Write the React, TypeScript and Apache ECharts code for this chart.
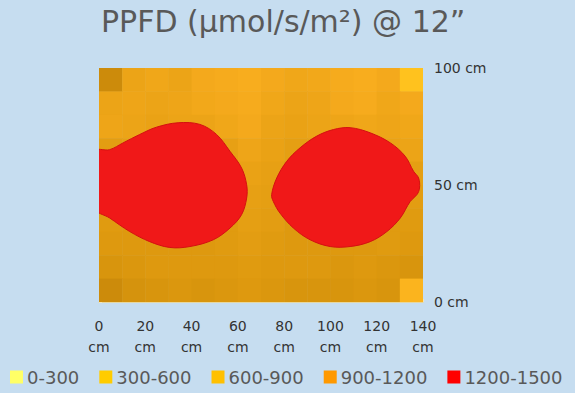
import React, { useEffect, useRef } from "react";
import * as echarts from "echarts";

const xTicks = [0, 20, 40, 60, 80, 100, 120, 140];
const yTicks = [0, 50, 100];
const legendNames = ["0-300", "300-600", "600-900", "900-1200", "1200-1500"];
const legendColors = ["#ffff66", "#ffcc00", "#ffc000", "#ff9900", "#ff0000"];

// cell centres (cm) of the measured grid, 10 cm cells
const cellX = [5, 15, 25, 35, 45, 55, 65, 75, 85, 95, 105, 115, 125, 135];
const cellY = [95, 85, 75, 65, 55, 45, 35, 25, 15, 5];
// PPFD (µmol/s/m²) per row, top row first
const row95 = [1120, 1000, 980, 1000, 960, 950, 940, 960, 980, 970, 950, 940, 960, 880];
const row85 = [1000, 990, 1000, 990, 970, 960, 950, 980, 1000, 990, 960, 950, 980, 960];
const row75 = [990, 1000, 1010, 1000, 1000, 980, 960, 1000, 1010, 1000, 990, 980, 990, 980];
const row65 = [1040, 1030, 1030, 1030, 1030, 1020, 990, 1010, 1030, 1030, 1030, 1020, 1010, 1000];
const row55 = [1060, 1060, 1060, 1060, 1060, 1050, 1010, 1020, 1060, 1060, 1060, 1050, 1040, 1030];
const row45 = [1060, 1060, 1060, 1060, 1060, 1050, 1020, 1030, 1060, 1060, 1060, 1050, 1040, 1040];
const row35 = [1050, 1060, 1060, 1060, 1060, 1050, 1030, 1040, 1060, 1060, 1060, 1050, 1050, 1050];
const row25 = [1060, 1060, 1060, 1060, 1060, 1050, 1040, 1050, 1060, 1060, 1060, 1060, 1050, 1060];
const row15 = [1080, 1070, 1060, 1060, 1060, 1060, 1050, 1060, 1060, 1060, 1070, 1060, 1070, 1080];
const row5 = [1120, 1090, 1080, 1070, 1080, 1070, 1060, 1070, 1080, 1080, 1080, 1070, 1080, 920];
const rows = [row95, row85, row75, row65, row55, row45, row35, row25, row15, row5];

// 1200-1500 contour outlines, [x cm, y cm]
const leftBlob = [
  [-2, 64.4], [4.6, 65.1], [10.4, 68.0], [17.6, 71.6], [24.8, 74.7], [34.2, 76.6],
  [43.6, 75.9], [50.8, 71.6], [56.6, 64.4], [61.6, 57.3], [63.8, 50.1], [63.8, 44.4],
  [61.6, 37.3], [56.6, 31.6], [49.4, 26.6], [39.3, 23.7], [30.6, 23.3], [21.9, 25.8],
  [13.3, 30.1], [4.6, 35.9], [-2, 40.2],
];
const rightBlob = [
  [74.6, 45.9], [76.8, 53.0], [81.1, 60.1], [86.9, 65.9], [94.1, 70.9], [101.3, 73.7],
  [108.5, 74.5], [117.2, 72.3], [125.9, 68.0], [132.3, 62.3], [135.9, 55.9], [138.1, 53.0],
  [138.5, 48.7], [137.4, 45.9], [134.5, 43.0], [130.2, 35.9], [124.4, 30.1], [117.2, 25.8],
  [108.5, 23.7], [99.9, 23.7], [91.2, 26.6], [84.0, 31.6], [78.2, 38.0], [75.3, 43.0],
];

const FONT = "DejaVu Sans";

export default function App() {
  const ref = useRef<HTMLDivElement>(null);
  useEffect(() => {
    const chart = echarts.init(ref.current!, null, { renderer: "svg" });
    const cells: number[][] = [];
    rows.forEach((r, i) => r.forEach((v, j) => cells.push([cellX[j], cellY[i], v])));

    const blobSeries = (pts: number[][]) => ({
      type: "custom",
      clip: true,
      silent: true,
      data: pts,
      renderItem: (params: any, api: any) => {
        if (params.dataIndex !== 0) return null;
        const points = pts.map((p) => api.coord(p));
        return {
          type: "polygon",
          shape: { points, smooth: 0.35 },
          style: { fill: "#f01818", stroke: "#d41010", lineWidth: 1 },
        };
      },
    });

    chart.setOption({
      animation: false,
      backgroundColor: "#c6ddf0",
      title: {
        text: "PPFD (µmol/s/m²) @ 12\u201D",
        left: 96,
        top: 1,
        textStyle: { fontFamily: FONT, fontSize: 30, fontWeight: "normal", color: "#595959" },
      },
      grid: { left: 99, right: 152, top: 68, bottom: 91 },
      xAxis: {
        type: "value",
        min: xTicks[0],
        max: xTicks[xTicks.length - 1],
        interval: 20,
        splitLine: { show: false },
        axisLine: { show: true, lineStyle: { color: "#e6d7a0" } },
        axisTick: { show: true, inside: true, length: 3, lineStyle: { color: "#f3e6b8" } },
        axisLabel: {
          formatter: (v: number) => `${v}\ncm`,
          fontFamily: FONT,
          fontSize: 14,
          lineHeight: 21,
          color: "#333333",
          margin: 13,
        },
      },
      yAxis: {
        type: "value",
        position: "right",
        min: yTicks[0],
        max: yTicks[yTicks.length - 1],
        interval: 50,
        splitLine: { show: false },
        axisLine: { show: false },
        axisTick: { show: true, length: 3, lineStyle: { color: "#f3e6b8" } },
        axisLabel: {
          formatter: (v: number) => `${v} cm`,
          fontFamily: FONT,
          fontSize: 14,
          color: "#333333",
          margin: 11,
        },
      },
      visualMap: {
        show: false,
        type: "continuous",
        seriesIndex: 0,
        dimension: 2,
        min: 880,
        max: 1130,
        inRange: { color: ["#ffc21e", "#f8ac1e", "#eba316", "#dc980e", "#c9890a"] },
      },
      legend: {
        left: 10,
        top: 368,
        width: 570,
        padding: 0,
        itemWidth: 13,
        itemHeight: 13,
        itemGap: 20,
        icon: "rect",
        data: legendNames,
        textStyle: { fontFamily: FONT, fontSize: 18, color: "#595959", padding: [0, 0, 0, -1] },
      },
      series: [
        {
          type: "custom",
          name: "cells",
          silent: true,
          clip: true,
          data: cells,
          renderItem: (params: any, api: any) => {
            const x = api.value(0);
            const y = api.value(1);
            const p0 = api.coord([x - 5, y + 5]);
            const p1 = api.coord([x + 5, y - 5]);
            return {
              type: "rect",
              shape: { x: p0[0], y: p0[1], width: p1[0] - p0[0] + 0.5, height: p1[1] - p0[1] + 0.5 },
              style: { fill: api.visual("color") },
            };
          },
        },
        blobSeries(leftBlob),
        blobSeries(rightBlob),
        ...legendNames.map((n, i) => ({
          type: "scatter",
          name: n,
          data: [],
          itemStyle: { color: legendColors[i], opacity: 1 },
        })),
      ],
    });
    return () => chart.dispose();
  }, []);
  return (
    <div
      ref={ref}
      style={{ position: "absolute", left: 0, top: 0, width: 575, height: 393 }}
    />
  );
}
